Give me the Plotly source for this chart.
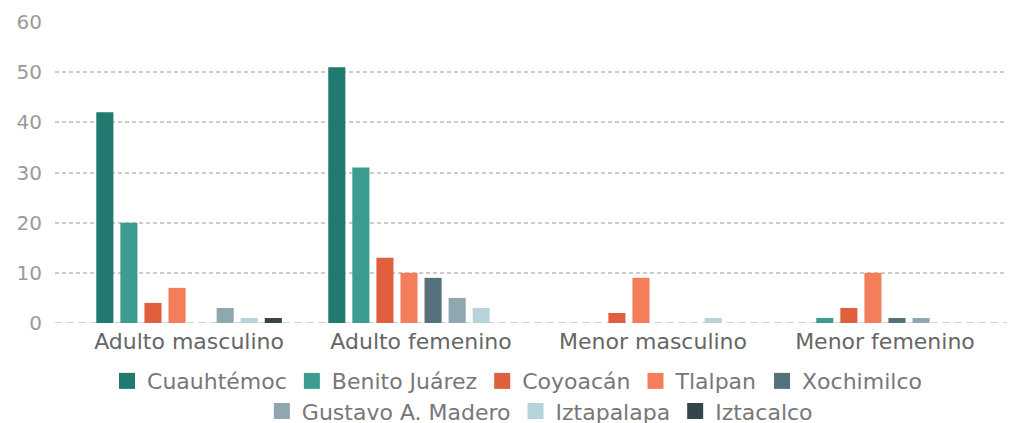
import plotly.graph_objects as go

categories = ["Adulto masculino", "Adulto femenino", "Menor masculino", "Menor femenino"]
series_names = ["Cuauhtémoc", "Benito Juárez", "Coyoacán", "Tlalpan", "Xochimilco",
                "Gustavo A. Madero", "Iztapalapa", "Iztacalco"]
cuauhtemoc = [42, 51, 0, 0]
benito_juarez = [20, 31, 0, 1]
coyoacan = [4, 13, 2, 3]
tlalpan = [7, 10, 9, 10]
xochimilco = [0, 9, 0, 1]
gustavo_madero = [3, 5, 0, 1]
iztapalapa = [1, 3, 1, 0]
iztacalco = [1, 0, 0, 0]
y_ticks = [0, 10, 20, 30, 40, 50, 60]

series_values = [cuauhtemoc, benito_juarez, coyoacan, tlalpan, xochimilco,
                 gustavo_madero, iztapalapa, iztacalco]
colors = ["#217a6f", "#3c9c90", "#e0603e", "#f47d5a", "#55717b",
          "#8fa8b0", "#b7d4db", "#36454c"]

FONT = "DejaVu Sans, Verdana, sans-serif"

fig = go.Figure()
for i, (name, vals, col) in enumerate(zip(series_names, series_values, colors)):
    fig.add_trace(go.Bar(name=name, x=categories, y=vals, marker_color=col,
                         marker_line_width=0, showlegend=False, legendgroup=name))
    # legend-only entry with a larger square swatch
    fig.add_trace(go.Scatter(name=name, x=[None], y=[None], mode="markers",
                             marker=dict(symbol="square", size=17, color=col),
                             legendgroup=name, showlegend=True,
                             legend="legend" if i < 5 else "legend2"))

fig.add_shape(type="line", xref="paper", yref="y", x0=0, x1=1, y0=0, y1=0,
              line=dict(color="#c4c4c4", width=1.5, dash="7px,5px"), layer="below")

legend_common = dict(orientation="h", xref="container", yref="container",
                     xanchor="center", yanchor="middle", itemsizing="trace",
                     font=dict(family=FONT, size=22, color="#777777"),
                     traceorder="normal", bgcolor="rgba(0,0,0,0)")

fig.update_layout(
    width=1015, height=423,
    margin=dict(l=47, r=13, t=13, b=108),
    paper_bgcolor="white", plot_bgcolor="white",
    barmode="group", bargap=0.17, bargroupgap=0.29,
    font=dict(family=FONT, color="#666666"),
    showlegend=True,
    legend=dict(x=0.5015, y=0.118, **legend_common),
    legend2=dict(x=0.524, y=0.047, **legend_common),
    xaxis=dict(range=[-0.578, 3.539], showgrid=False, showline=False, ticks="",
               automargin=False, ticklabelstandoff=3,
               tickfont=dict(family=FONT, size=22, color="#666666")),
    yaxis=dict(range=[0, 60.2], tickvals=y_ticks, showgrid=True, gridcolor="#cccccc",
               griddash="4px,3px", gridwidth=1.5, zeroline=False,
               showline=False, ticks="", automargin=False, ticklabelstandoff=12,
               tickfont=dict(family=FONT, size=20, color="#9a9a9a")),
)
fig.write_html("out.html")
